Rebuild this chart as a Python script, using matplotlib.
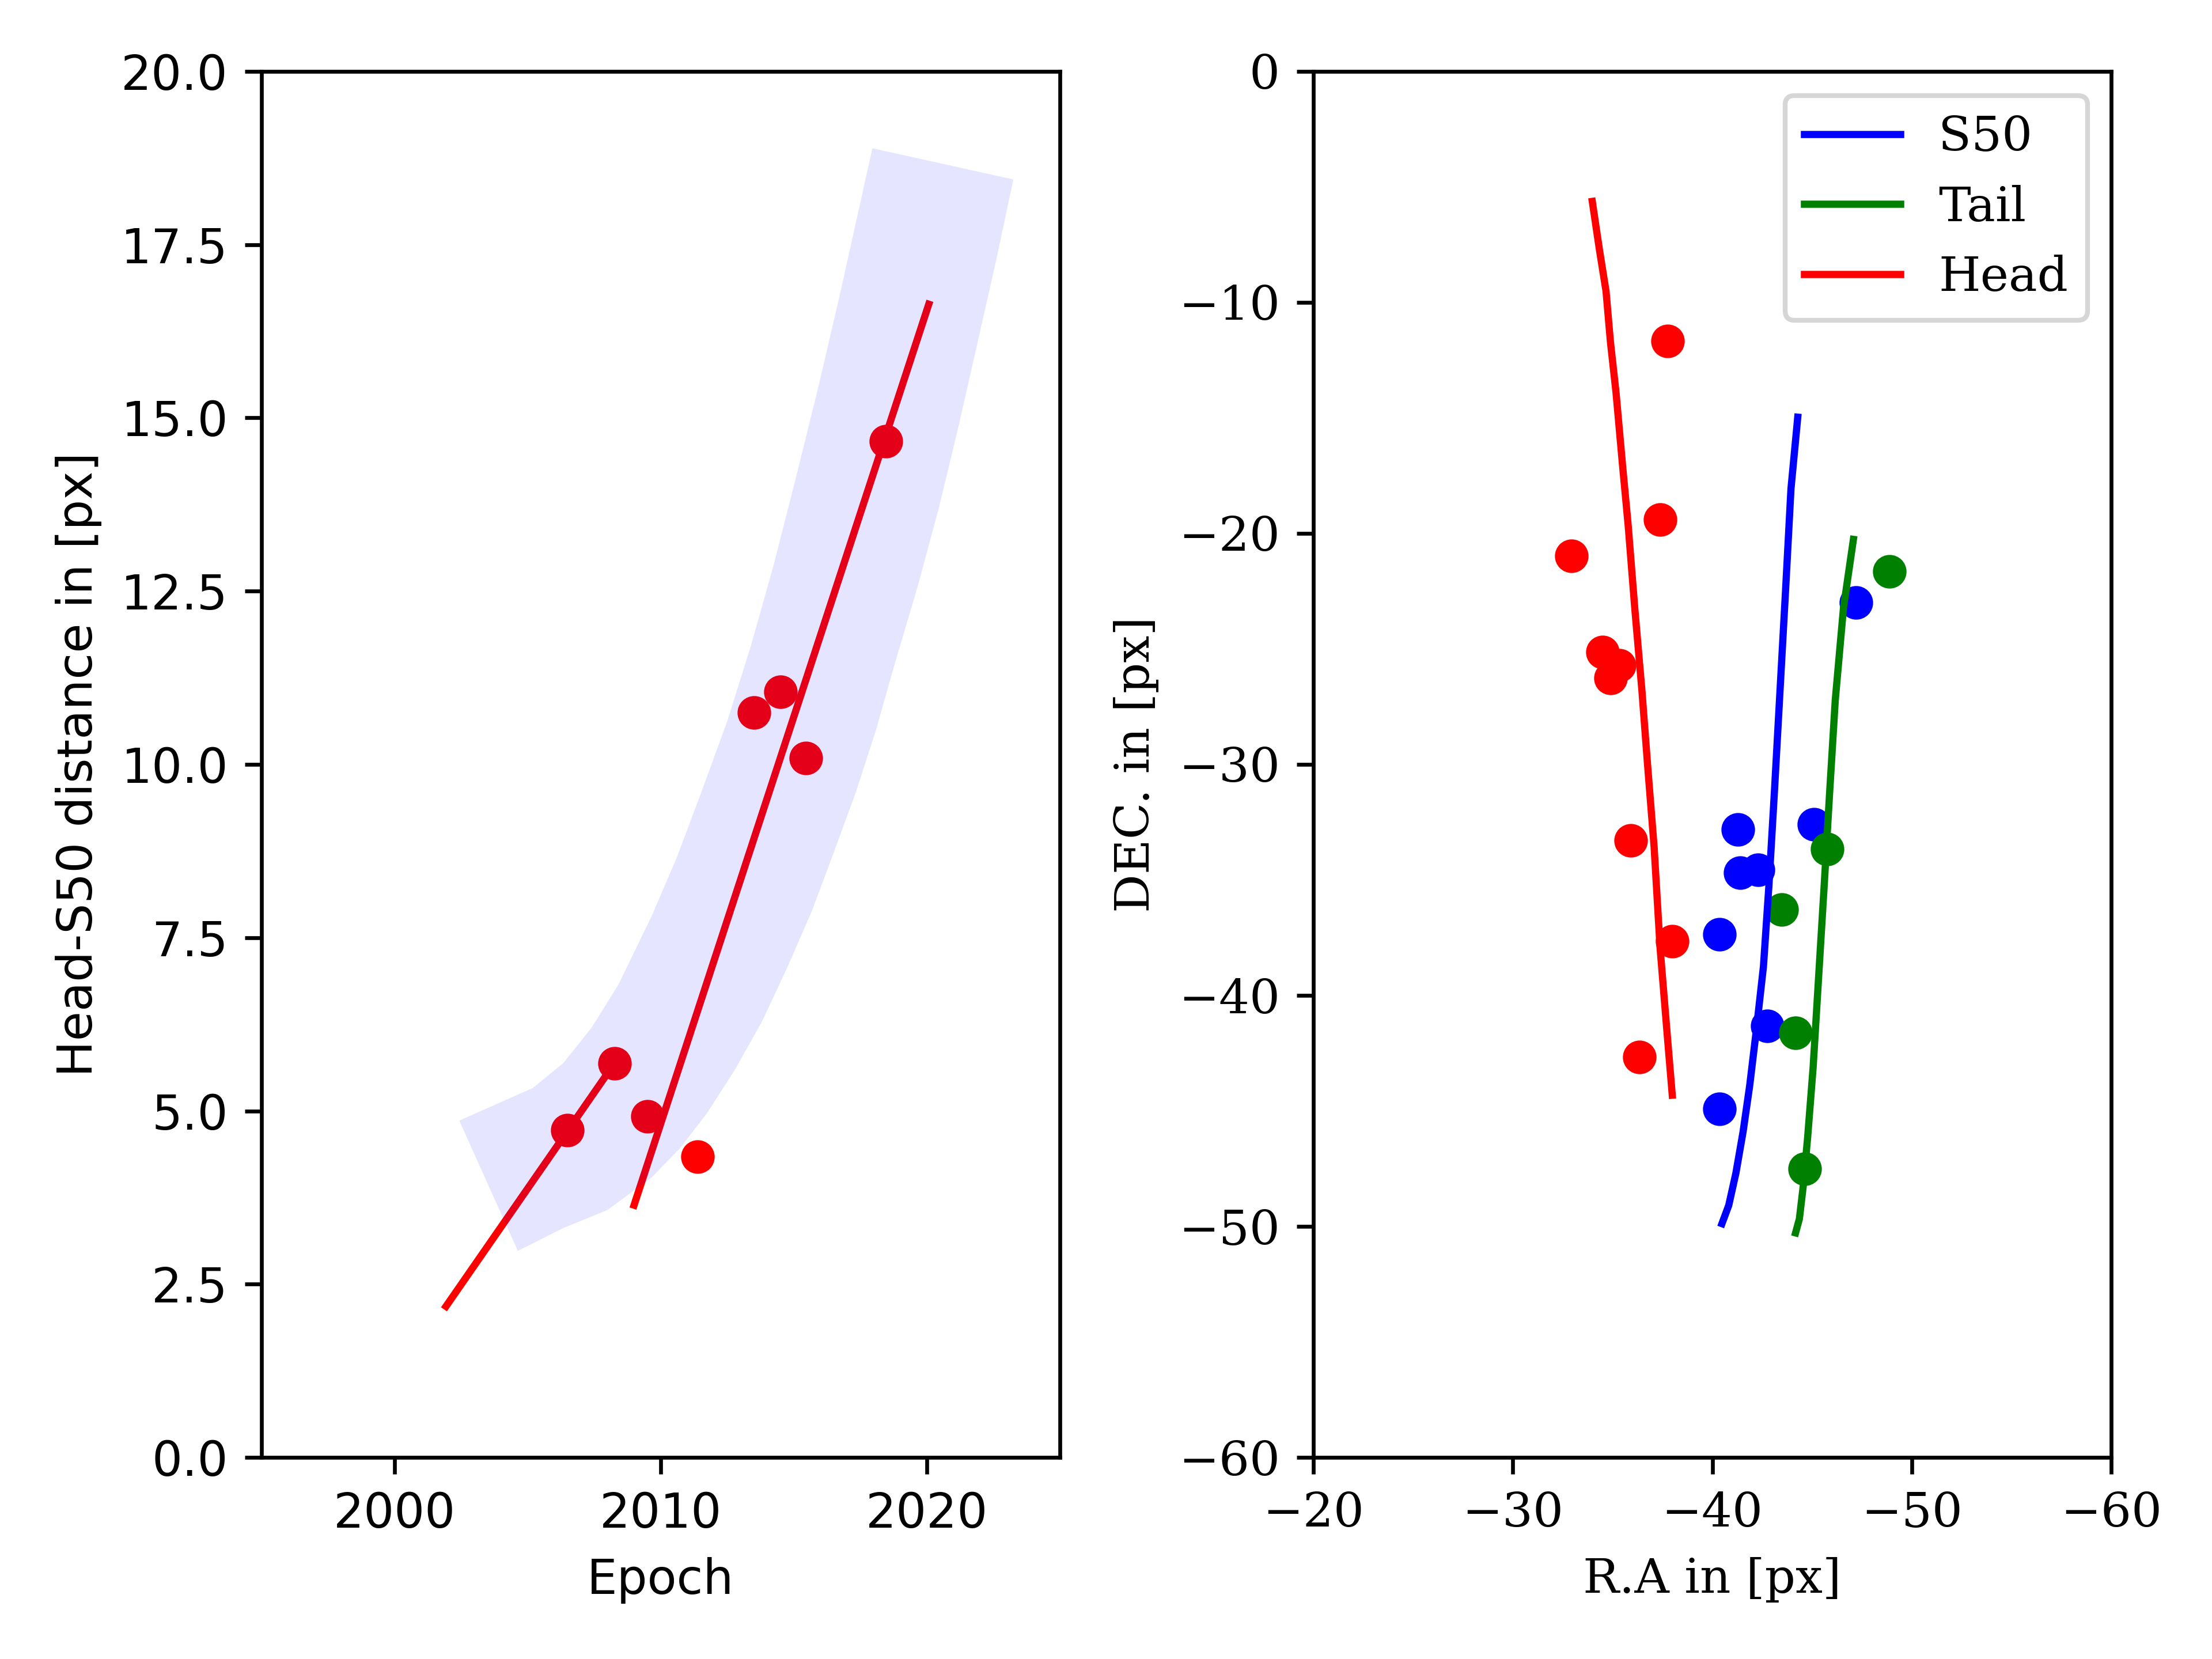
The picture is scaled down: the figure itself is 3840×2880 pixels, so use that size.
import numpy as np
import matplotlib
matplotlib.use("Agg")
import matplotlib.pyplot as plt

# left panel: head-S50 distance vs epoch
epoch = [2006.5, 2008.27, 2009.51, 2011.38, 2013.5, 2014.5, 2015.47, 2018.48]
dist = [4.72, 5.69, 4.92, 4.34, 10.75, 11.05, 10.09, 14.66]

fit1_x = [2001.93, 2008.27]
fit1_y = [2.18, 5.69]
fit2_x = [2009.0, 2020.08]
fit2_y = [3.64, 16.64]

# shaded band (upper edge then lower edge back)
band_up_x = [2002.43, 2005.19, 2006.34, 2007.4, 2008.41, 2009.66, 2010.6, 2011.53, 2012.5,
             2013.40, 2014.25, 2015.06, 2015.9, 2016.72, 2017.96]
band_up_y = [4.86, 5.33, 5.69, 6.2, 6.82, 7.81, 8.65, 9.60, 10.62, 11.72, 12.88, 14.10, 15.4,
             16.75, 18.89]
band_lo_x = [2023.26, 2022.6, 2021.91, 2021.2, 2020.46, 2019.65, 2018.80, 2018.1, 2017.34, 2016.5,
             2015.68, 2014.75, 2013.81, 2012.8, 2011.73, 2010.7, 2009.66, 2008.00, 2006.34, 2004.63]
band_lo_y = [18.44, 17.25, 16.08, 14.88, 13.70, 12.55, 11.45, 10.5, 9.60, 8.72, 7.88, 7.06, 6.29,
             5.6, 4.96, 4.45, 4.04, 3.57, 3.31, 2.98]

# right panel: tracks
head_ra = [-33.98, -34.34, -34.67, -34.89, -35.17, -35.50, -35.78, -36.11, -36.47, -36.75,
           -37.08, -37.38, -37.72, -37.99]
head_dec = [-5.63, -7.73, -9.52, -11.71, -13.90, -17.08, -19.66, -23.24, -26.82, -30.00,
            -33.58, -37.95, -41.53, -44.32]
s50_ra = [-40.48, -40.82, -41.18, -41.54, -41.87, -42.20, -42.56, -42.84, -43.11, -43.39,
          -43.67, -43.94, -44.28]
s50_dec = [-49.88, -49.09, -47.69, -45.90, -43.91, -41.53, -38.75, -35.17, -31.19, -26.82,
           -22.45, -18.07, -14.97]
tail_ra = [-44.17, -44.36, -44.55, -44.78, -45.05, -45.33, -45.61, -45.88, -46.16, -46.57, -47.07]
tail_dec = [-50.28, -49.68, -48.29, -46.10, -43.12, -39.15, -35.17, -31.19, -27.22, -23.24, -20.26]

head_pts_ra = [-37.77, -37.38, -32.94, -34.5, -35.33, -34.9, -35.9, -37.99, -36.34]
head_pts_dec = [-11.67, -19.4, -20.98, -25.15, -25.7, -26.25, -33.3, -37.65, -42.66]
s50_pts_ra = [-47.2, -41.28, -41.4, -42.28, -40.37, -42.75, -40.37, -45.08]
s50_pts_dec = [-23.0, -32.82, -34.69, -34.57, -37.35, -41.33, -44.91, -32.6]
tail_pts_ra = [-48.87, -45.77, -43.47, -44.17, -44.64]
tail_pts_dec = [-21.65, -33.66, -36.28, -41.61, -47.50]

fig, (ax1, ax2) = plt.subplots(1, 2, figsize=(6.4, 4.8), dpi=600)
fig.subplots_adjust(left=0.1183, right=0.9545, top=0.957, bottom=0.1215, wspace=0.318)

ax1.plot(fit1_x, fit1_y, color="red")
ax1.plot(fit2_x, fit2_y, color="red")
ax1.scatter(epoch, dist, color="red")
ax1.fill(band_up_x + band_lo_x, band_up_y + band_lo_y, color="blue", alpha=0.1,
         linewidth=0, zorder=3)
ax1.set_xlim(1995, 2025)
ax1.set_ylim(0, 20)
ax1.set_xlabel("Epoch")
ax1.set_ylabel("Head-S50 distance in [px]")

ax2.plot(s50_ra, s50_dec, color="blue", label="S50")
ax2.plot(tail_ra, tail_dec, color="green", label="Tail")
ax2.plot(head_ra, head_dec, color="red", label="Head")
ax2.scatter(head_pts_ra, head_pts_dec, color="red")
ax2.scatter(s50_pts_ra, s50_pts_dec, color="blue")
ax2.scatter(tail_pts_ra, tail_pts_dec, color="green")
ax2.set_xlim(-20, -60)
ax2.set_ylim(-60, 0)
ax2.set_xlabel("R.A in [px]", family="serif")
ax2.set_ylabel("DEC. in [px]", family="serif")
for lab in ax2.get_xticklabels() + ax2.get_yticklabels():
    lab.set_family("serif")
ax2.legend(loc="upper right", prop={"family": "serif"})

fig.savefig("out.png")
